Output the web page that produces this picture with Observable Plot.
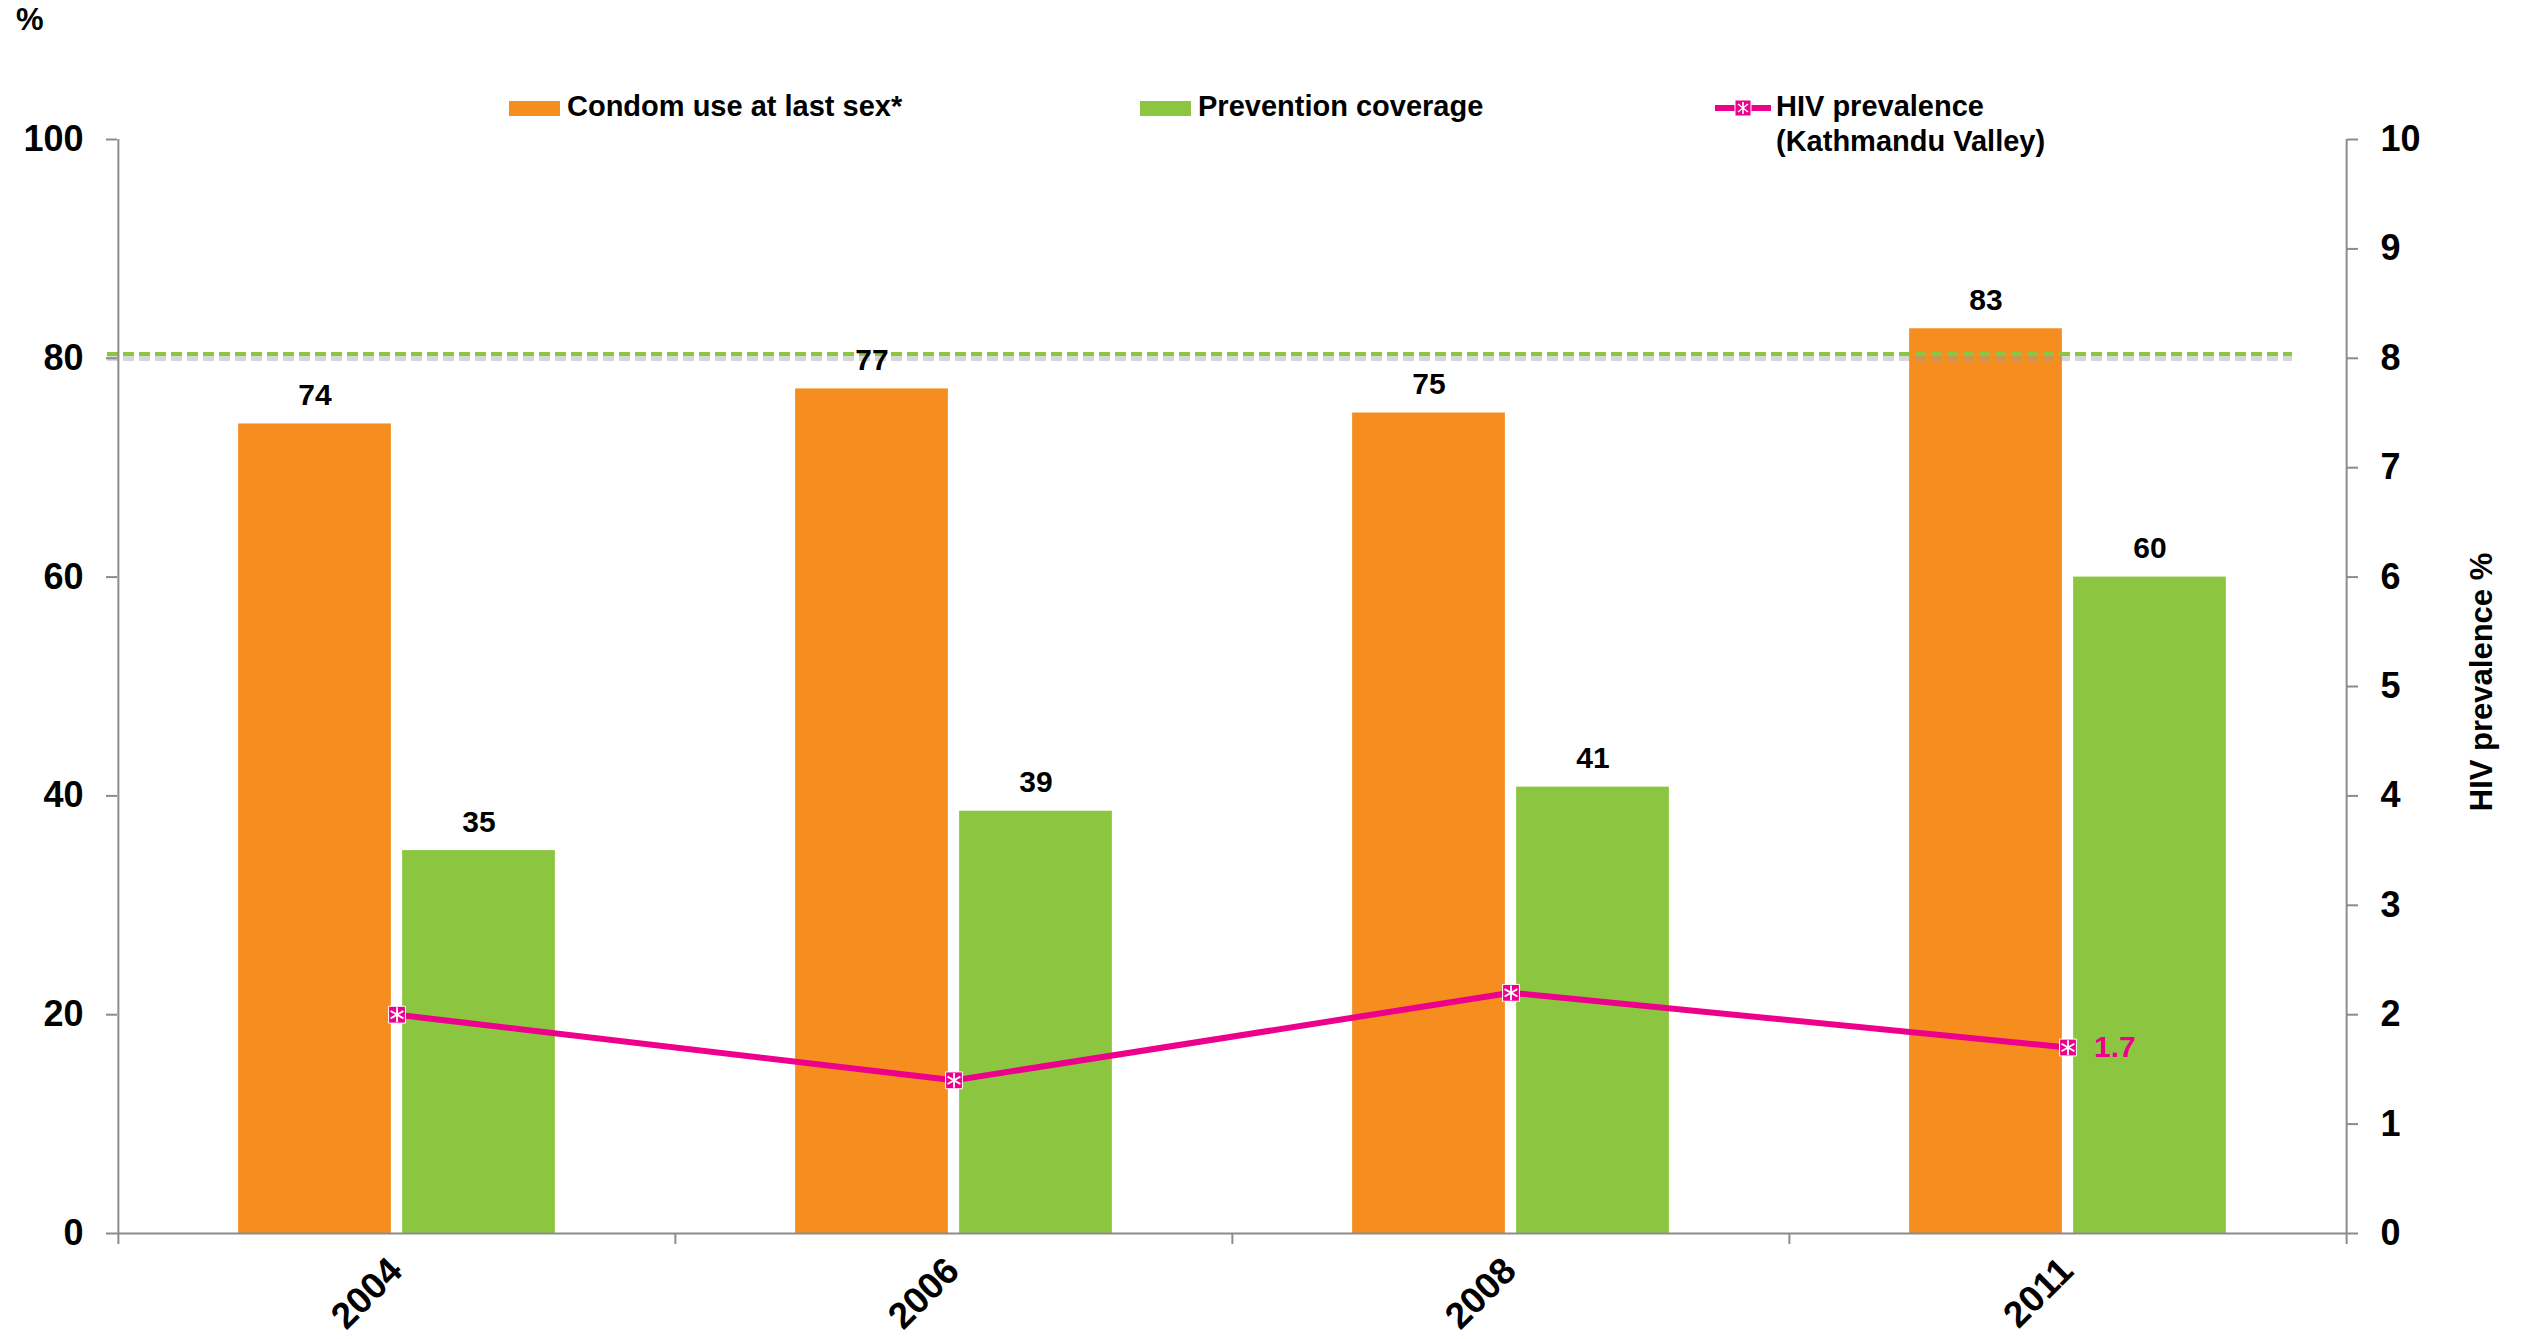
<!DOCTYPE html>
<html>
<head>
<meta charset="utf-8">
<script src="https://cdn.jsdelivr.net/npm/d3@7"></script>
<script src="https://cdn.jsdelivr.net/npm/@observablehq/plot@0.6"></script>
<style>
  body { margin: 0; background: #fff; font-family: "Liberation Sans", Arial, sans-serif; }
  #wrap { position: relative; width: 2526px; height: 1339px; overflow: hidden; }
  #chart { position: absolute; left: 0; top: 0; }
  .lbl { position: absolute; font-weight: bold; color: #000; white-space: nowrap; }
  .leg { position: absolute; top: 89px; font-size: 29px; line-height: 35px; font-weight: bold; color: #000; white-space: nowrap; }
  .sw { position: absolute; }
</style>
</head>
<body>
<div id="wrap">
  <div id="chart"></div>
  <div class="lbl" style="left:16px; top:2px; font-size:31px;">%</div>
  <div id="legend"></div>
  <div class="lbl" style="left:2482px; top:682px; font-size:31px; transform: translate(-50%,-50%) rotate(-90deg);">HIV prevalence %</div>
</div>
<script>
// ---- data ----
const years = ["2004", "2006", "2008", "2011"];
const condomUse = [74, 77.2, 75, 82.7];
const preventionCoverage = [35, 38.6, 40.8, 60];
const hivPrevalence = [2.0, 1.4, 2.2, 1.7];
const targetLine = [80.4];
const leftTicks = [0, 20, 40, 60, 80, 100];
const rightTicks = [0, 1, 2, 3, 4, 5, 6, 7, 8, 9, 10];
const legendLabels = ["Condom use at last sex*", "Prevention coverage", "HIV prevalence\n(Kathmandu Valley)"];

// ---- style ----
const ORANGE = "#F68E1F", GREEN = "#8CC641", PINK = "#EC008C", GRAY = "#8C8C8C";
const W = 2526, H = 1339, ML = 117, MR = 180, MT = 139, MB = 106;
const step = (W - ML - MR) / years.length;
const barW = 153, gap = 11;
const outer = (step - 2 * barW - gap) / 2;
const offOrange = outer + barW / 2 - step / 2;
const offGreen = outer + barW + gap + barW / 2 - step / 2;

const rows = years.map((y, i) => ({
  year: y, condom: condomUse[i], prevention: preventionCoverage[i], hiv: hivPrevalence[i]
}));
const hivScale = 10; // right axis 0-10 mapped onto left 0-100

const chart = Plot.plot({
  width: W, height: H,
  marginLeft: ML, marginRight: MR, marginTop: MT, marginBottom: MB,
  style: { fontFamily: "'Liberation Sans', Arial, sans-serif", background: "white", overflow: "visible" },
  x: { type: "band", domain: years, padding: 0, axis: null },
  y: { domain: [0, 100], axis: null },
  marks: [
    // bars
    Plot.barY(rows, { x: "year", y: "condom", fill: ORANGE, insetLeft: outer, insetRight: step - outer - barW }),
    Plot.barY(rows, { x: "year", y: "prevention", fill: GREEN, insetLeft: outer + barW + gap, insetRight: outer }),
    // target dashed line with shadow
    Plot.ruleY(targetLine, { stroke: "#9a9a9a", strokeOpacity: 0.4, strokeWidth: 6, dy: 4, strokeDasharray: "11,5", insetLeft: -10, insetRight: 54 }),
    Plot.ruleY(targetLine, { stroke: GREEN, strokeWidth: 4, strokeDasharray: "11,5", insetLeft: -10, insetRight: 54 }),
    // axes lines
    Plot.ruleY([0], { stroke: GRAY, strokeWidth: 2 }),
    Plot.ruleX([years[0]], { x: d => d, dx: -step / 2, y1: -1, y2: 100, stroke: GRAY, strokeWidth: 2 }),
    Plot.ruleX([years[years.length - 1]], { x: d => d, dx: step / 2, y1: -1, y2: 100, stroke: GRAY, strokeWidth: 2 }),
    Plot.ruleX(years.slice(1), { x: d => d, dx: -step / 2, y1: -1, y2: 0, stroke: GRAY, strokeWidth: 2 }),
    Plot.axisY(leftTicks, { anchor: "left", tickSize: 11, tickPadding: 23, fontSize: 36, fontWeight: "bold", stroke: GRAY, strokeWidth: 2, label: null }),
    Plot.axisY(rightTicks.map(d => d * hivScale), { anchor: "right", tickFormat: d => d / hivScale, tickSize: 11, tickPadding: 23, fontSize: 36, fontWeight: "bold", stroke: GRAY, strokeWidth: 2, label: null }),
    Plot.axisX({ tickSize: 0, tickRotate: -45, tickPadding: 31, dx: -1, fontSize: 37, fontWeight: "bold", label: null }),
    // value labels
    Plot.text(rows, { x: "year", y: "condom", text: d => d3.format(".0f")(d.condom), dx: offOrange, dy: -19, lineAnchor: "bottom", fontSize: 30, fontWeight: "bold", fill: "black" }),
    Plot.text(rows, { x: "year", y: "prevention", text: d => d3.format(".0f")(d.prevention), dx: offGreen, dy: -19, lineAnchor: "bottom", fontSize: 30, fontWeight: "bold", fill: "black" }),
    // HIV line
    Plot.line(rows, { x: "year", y: d => d.hiv * hivScale, stroke: PINK, strokeWidth: 6 }),
    Plot.dot(rows, { x: "year", y: d => d.hiv * hivScale, symbol: "square", r: 9.5, fill: PINK, stroke: "white", strokeWidth: 1 }),
    Plot.dot(rows, { x: "year", y: d => d.hiv * hivScale, symbol: "asterisk", r: 7, stroke: "white", strokeWidth: 1.8 }),
    Plot.text(rows.slice(-1), { x: "year", y: d => d.hiv * hivScale, text: d => d.hiv.toFixed(1), dx: 26, textAnchor: "start", lineAnchor: "middle", fontSize: 30, fontWeight: "bold", fill: PINK })
  ]
});
document.getElementById("chart").appendChild(chart);

// ---- legend (HTML overlay) ----
const legend = document.getElementById("legend");
const legendPos = [509, 1140, 1715];
const legendKinds = [ORANGE, GREEN, PINK];
legendLabels.forEach((lab, i) => {
  const left = legendPos[i];
  if (i < 2) {
    const sw = document.createElement("div");
    sw.className = "sw";
    Object.assign(sw.style, { left: left + "px", top: "101px", width: "51px", height: "15px", background: legendKinds[i] });
    legend.appendChild(sw);
  } else {
    const ns = "http://www.w3.org/2000/svg";
    const svg = document.createElementNS(ns, "svg");
    svg.setAttribute("width", 58); svg.setAttribute("height", 24);
    svg.style.position = "absolute"; svg.style.left = left + "px"; svg.style.top = "96px";
    svg.innerHTML = `<line x1="0" x2="56" y1="12" y2="12" stroke="${PINK}" stroke-width="6"/>
      <rect x="20" y="4" width="16" height="16" fill="${PINK}" stroke="white" stroke-width="1"/>
      <path d="M28,6V18M23,8L33,16M33,8L23,16" stroke="white" stroke-width="1.6"/>`;
    legend.appendChild(svg);
  }
  const t = document.createElement("div");
  t.className = "leg";
  t.style.left = (left + 58 + (i === 2 ? 3 : 0)) + "px";
  t.innerHTML = lab.split("\n").join("<br>");
  legend.appendChild(t);
});
</script>
</body>
</html>
